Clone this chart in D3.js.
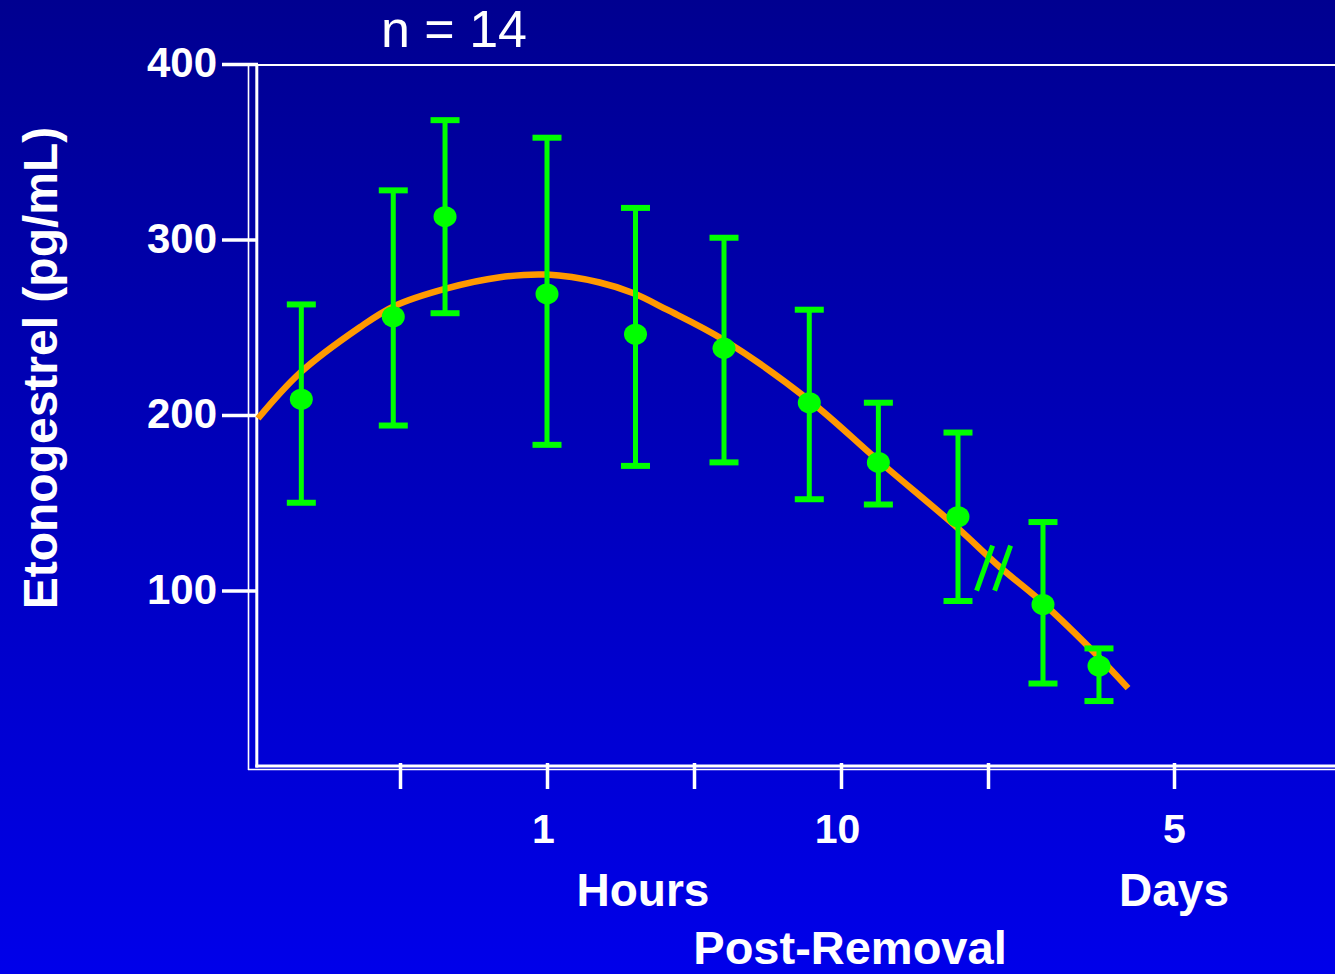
<!DOCTYPE html>
<html>
<head>
<meta charset="utf-8">
<script src="https://cdn.jsdelivr.net/npm/d3@7"></script>
<style>
  html, body { margin: 0; padding: 0; background: #0000c0; }
  svg { display: block; }
  text { font-family: "Liberation Sans", Arial, sans-serif; fill: #ffffff; }
</style>
</head>
<body>
<svg id="chart" width="1335" height="974"></svg>
<script>
// Sampling times after implant removal (hours; 48 h = 2 days, 71 h ≈ 3 days)
const sampleHours = [0.146, 0.3, 0.45, 1, 2, 4, 7.8, 13.4, 25, 48, 71];
// Mean etonogestrel concentration (pg/mL) and error-bar limits
const meanConc  = [209, 256, 313, 269, 246, 238, 207, 173, 142, 92, 57];
const upperConc = [263, 328, 368, 358, 318, 301, 260, 207, 190, 139, 67];
const lowerConc = [150, 194, 258, 183, 171, 173, 152, 149, 94, 47, 37];

// Fitted elimination curve
const fitHours = [0.104, 0.1445, 0.231, 0.302, 0.453, 0.692, 1, 1.51, 1.96, 2.56, 3.97, 7.78, 13.4, 24.8, 34.6, 48, 71, 87];
const fitConc  = [198, 224, 250, 262, 272, 278.5, 280, 275.5, 269.5, 260, 243, 208.5, 174, 136, 113.4, 92.9, 62, 44.4];

// Axis ticks
const yTicks = [100, 200, 300, 400];
const xTickHours = [Math.pow(10, -0.5), 1, Math.pow(10, 0.5), 10, Math.pow(10, 1.5), 120];
const xTickLabels = ["", "1", "", "10", "", "5"];

// Axis break position on the time axis
const breakHours = 33;
const breakConc = 113;

const svg = d3.select("#chart");
const W = 1335, H = 974;

// Background gradient
const defs = svg.append("defs");
const grad = defs.append("linearGradient").attr("id", "bg")
  .attr("x1", 0).attr("y1", 0).attr("x2", 0).attr("y2", 1);
grad.append("stop").attr("offset", "0%").attr("stop-color", "#000090");
grad.append("stop").attr("offset", "100%").attr("stop-color", "#0000ea");
svg.append("rect").attr("width", W).attr("height", H).attr("fill", "url(#bg)");

// Scales: concentration (linear) and time (piecewise log, broken after ~32 h)
const y = d3.scaleLinear().domain([0, 400]).range([766, 64]);
const x = d3.scaleLog()
  .domain([1, Math.pow(10, 1.5), 48, 120])
  .range([547, 988, 1043, 1174]);

// Frame: double lines on left and bottom, single line at the top
const frame = svg.append("g").attr("stroke", "#fff").attr("fill", "none");
frame.append("line").attr("x1", 248.5).attr("y1", 64).attr("x2", 248.5).attr("y2", 770)
  .attr("stroke-width", 1.6);
frame.append("line").attr("x1", 248).attr("y1", 769.5).attr("x2", W).attr("y2", 769.5)
  .attr("stroke-width", 1.6);
frame.append("line").attr("x1", 256.8).attr("y1", 64).attr("x2", 256.8).attr("y2", 767.5)
  .attr("stroke-width", 3);
frame.append("line").attr("x1", 255.3).attr("y1", 766).attr("x2", W).attr("y2", 766)
  .attr("stroke-width", 3);
frame.append("line").attr("x1", 256).attr("y1", 65).attr("x2", W).attr("y2", 65)
  .attr("stroke-width", 2);

// Y axis
const yAxis = svg.append("g")
  .attr("transform", "translate(258,0)")
  .call(d3.axisLeft(y).tickValues(yTicks).tickSize(36).tickPadding(5).tickFormat(d3.format("d")));
yAxis.select(".domain").remove();
yAxis.selectAll(".tick line").attr("stroke", "#fff").attr("stroke-width", 3.5);
yAxis.selectAll(".tick text")
  .attr("fill", "#fff")
  .style("font-size", "42px").style("font-weight", "bold")
  .attr("dy", "0.3em");

// X axis
const xAxis = svg.append("g")
  .attr("transform", "translate(0,763)")
  .call(d3.axisBottom(x).tickValues(xTickHours).tickSize(26).tickPadding(23)
    .tickFormat((d, i) => xTickLabels[i]));
xAxis.select(".domain").remove();
xAxis.selectAll(".tick line").attr("stroke", "#fff").attr("stroke-width", 3.5);
xAxis.selectAll(".tick text")
  .attr("fill", "#fff")
  .attr("dx", (d, i) => i < 5 ? -4 : 0)
  .attr("dy", "0.75em")
  .style("font-size", "41px").style("font-weight", "bold");

// Fitted curve
const fitData = fitHours.map((h, i) => ({ h, v: fitConc[i] }));
svg.append("path")
  .datum(fitData)
  .attr("fill", "none")
  .attr("stroke", "#ff9900")
  .attr("stroke-width", 6.5)
  .attr("d", d3.line().x(d => x(d.h)).y(d => y(d.v)).curve(d3.curveCatmullRom.alpha(0.5)));

// Error bars and mean points
const pts = sampleHours.map((h, i) => ({ h, m: meanConc[i], hi: upperConc[i], lo: lowerConc[i] }));
const green = "#00ff00";
const bars = svg.append("g").selectAll("g").data(pts).join("g");
bars.append("line")
  .attr("x1", d => x(d.h)).attr("x2", d => x(d.h))
  .attr("y1", d => y(d.hi)).attr("y2", d => y(d.lo))
  .attr("stroke", green).attr("stroke-width", 5);
bars.append("line")
  .attr("x1", d => x(d.h) - 14.5).attr("x2", d => x(d.h) + 14.5)
  .attr("y1", d => y(d.hi)).attr("y2", d => y(d.hi))
  .attr("stroke", green).attr("stroke-width", 6);
bars.append("line")
  .attr("x1", d => x(d.h) - 14.5).attr("x2", d => x(d.h) + 14.5)
  .attr("y1", d => y(d.lo)).attr("y2", d => y(d.lo))
  .attr("stroke", green).attr("stroke-width", 6);
bars.append("ellipse")
  .attr("cx", d => x(d.h)).attr("cy", d => y(d.m))
  .attr("rx", 11.5).attr("ry", 10.5)
  .attr("fill", green);

// Axis-break marks on the curve
const bx = x(breakHours), by = y(breakConc);
svg.append("g").selectAll("line").data([-9, 9]).join("line")
  .attr("x1", d => bx + d - 8).attr("y1", by + 23)
  .attr("x2", d => bx + d + 8).attr("y2", by - 22)
  .attr("stroke", green).attr("stroke-width", 5);

// Labels
svg.append("text")
  .attr("x", 381).attr("y", 47)
  .style("font-size", "52px")
  .text("n = 14");

svg.append("text")
  .attr("transform", "translate(57,368) rotate(-90)")
  .attr("text-anchor", "middle")
  .style("font-size", "48px").style("font-weight", "bold")
  .text("Etonogestrel (pg/mL)");

svg.append("text")
  .attr("x", 643).attr("y", 906)
  .attr("text-anchor", "middle")
  .style("font-size", "46px").style("font-weight", "bold")
  .text("Hours");

svg.append("text")
  .attr("x", 1174).attr("y", 906)
  .attr("text-anchor", "middle")
  .style("font-size", "46px").style("font-weight", "bold")
  .text("Days");

svg.append("text")
  .attr("x", 850).attr("y", 964)
  .attr("text-anchor", "middle")
  .style("font-size", "47px").style("font-weight", "bold")
  .text("Post-Removal");
</script>
</body>
</html>
